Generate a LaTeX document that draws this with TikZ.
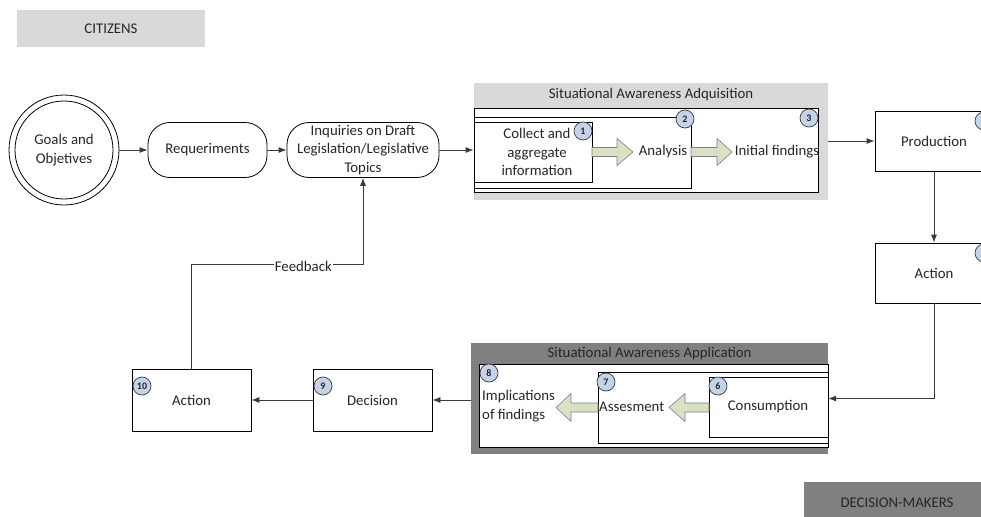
\documentclass[tikz,border=0pt]{standalone}
\usepackage{fontspec}
\setmainfont{Carlito}
\usetikzlibrary{arrows.meta}
\definecolor{lightg}{HTML}{D9D9D9}
\definecolor{darkg}{HTML}{808080}
\definecolor{badgefill}{HTML}{C5D3E8}
\definecolor{arrfill}{HTML}{D8E0C6}
\definecolor{txt}{HTML}{262626}
\definecolor{linec}{HTML}{3A3A3A}
\begin{document}
\begin{tikzpicture}[x=1pt,y=-1pt,
  font=\fontsize{14.8}{18.5}\selectfont, text=txt,
  box/.style={draw=black, line width=0.8pt, fill=white, inner sep=0pt},
  pill/.style={draw=black, line width=0.8pt, fill=white, rounded corners=22pt, inner sep=0pt, align=center},
  conn/.style={draw=linec, line width=0.8pt, -{Latex[length=8pt,width=6pt]}},
  badge/.style={circle, draw=linec, fill=badgefill, line width=0.7pt, minimum size=18pt, inner sep=0pt, font=\fontsize{10}{10}\bfseries\selectfont},
  blockarr/.style={draw=gray, fill=arrfill, line width=0.6pt, line join=miter},
  label/.style={inner sep=0pt}]
\useasboundingbox (0,0) rectangle (981,516);
\clip (0,0) rectangle (981,516);

% lanes
\node[fill=lightg, minimum width=188, minimum height=37, inner sep=0pt] (cit) at (111,28.5) {CITIZENS};
\node[fill=darkg, minimum width=186, minimum height=42, inner sep=0pt] (dm) at (897,503) {DECISION-MAKERS};

% top row
\node[circle, draw=black, line width=0.8pt, minimum size=110, inner sep=0pt] (goals) at (64,150) {};
\node[circle, draw=black, line width=0.8pt, minimum size=98, inner sep=0pt, align=center] (goalsin) at (goals.center) {Goals and\\Objetives};
\node[pill, minimum width=119, minimum height=55] (req) at (207.5,150) {Requeriments};
\node[pill, minimum width=152, minimum height=55] (inq) at (363,150) {Inquiries on Draft\\Legislation/Legislative\\Topics};

% acquisition group
\node[fill=lightg, minimum width=354, minimum height=117, inner sep=0pt] (acqbg) at (651,141.5) {};
\node[label] (acqt) at (651,95) {Situational Awareness Adquisition};
\node[box, minimum width=344, minimum height=84] (b3) at (646,150) {};
\node[box, minimum width=217, minimum height=71] (b2) at (582.5,152.5) {};
\node[box, minimum width=118, minimum height=60, align=center] (b1) at (533,152) {};
\node[label, align=center] (tCol) at (537,152) {Collect and\\aggregate\\information};
\node[label] (tAn) at (663,152) {Analysis};
\node[label] (tIF) at (777,152) {Initial findings};
\draw[blockarr] (592,147.5) -- (617,147.5) -- (617,138.5) -- (633,152) -- (617,165.5) -- (617,156.5) -- (592,156.5) -- cycle;
\draw[blockarr] (691,147.5) -- (717,147.5) -- (717,138.5) -- (732,152) -- (717,165.5) -- (717,156.5) -- (691,156.5) -- cycle;
\node[badge] (n1) at (583,131) {1};
\node[badge] (n2) at (685,119) {2};
\node[badge] (n3) at (809,118) {3};

% right column
\node[box, minimum width=118, minimum height=60] (prod) at (934,141) {Production};
\node[badge] (n4) at (984,121) {4};
\node[box, minimum width=118, minimum height=60] (act) at (934,273) {Action};
\node[badge] (n5) at (984,253) {5};

% application group
\node[fill=darkg, minimum width=357, minimum height=111, inner sep=0pt] (appbg) at (649.5,398.5) {};
\node[label] (appt) at (649.5,354) {Situational Awareness Application};
\node[box, minimum width=349, minimum height=83] (b8) at (653.5,405.5) {};
\node[box, minimum width=230, minimum height=71] (b7) at (713,407.5) {};
\node[box, minimum width=119, minimum height=60] (b6) at (768.5,407) {};
\node[label] (tCons) at (768,407) {Consumption};
\node[label, anchor=west] (tAss) at (599,407) {Assesment};
\node[label, anchor=west, align=left] (tImp) at (482,406) {Implications\\of findings};
\draw[blockarr] (709,403) -- (685,403) -- (685,393.5) -- (669,407.5) -- (685,421.5) -- (685,412) -- (709,412) -- cycle;
\draw[blockarr] (598,403) -- (571,403) -- (571,393.5) -- (556,407.5) -- (571,421.5) -- (571,412) -- (598,412) -- cycle;
\node[badge] (n8) at (489,373) {8};
\node[badge] (n7) at (606,382) {7};
\node[badge] (n6) at (718,386) {6};

% bottom row
\node[box, minimum width=119, minimum height=62] (dec) at (372.5,400) {Decision};
\node[badge] (n9) at (323,386) {9};
\node[box, minimum width=119, minimum height=62] (act10) at (191.5,400) {Action};
\node[badge] (n10) at (142,386) {10};

% connectors
\coordinate (fbc) at (0,264);
\draw[conn] (goals) -- (req);
\draw[conn] (req) -- (inq);
\draw[conn] (inq) -- (b3);
\draw[conn] (acqbg.east |- prod.west) -- (prod.west);
\draw[conn] (prod) -- (act);
\draw[conn] (act.south) |- (appbg.east);
\draw[conn] (appbg.west |- dec.east) -- (dec.east);
\draw[conn] (dec) -- (act10);
\draw[conn] (act10.north) |- node[pos=0.826, fill=white, inner sep=1pt, yshift=-2pt] {Feedback} (inq.south |- fbc) -- (inq.south);
\end{tikzpicture}
\end{document}
